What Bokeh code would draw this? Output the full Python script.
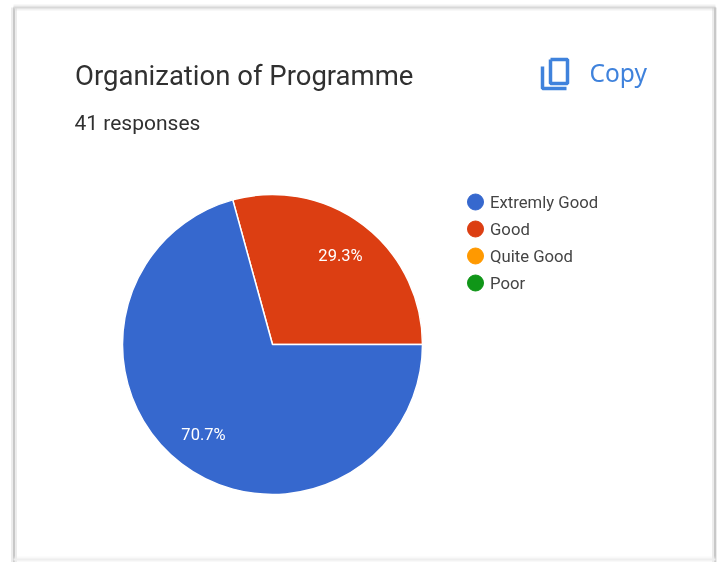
from math import pi
from bokeh.plotting import figure
from bokeh.models import Range1d
from bokeh.core.properties import value
from bokeh.embed import file_html
from bokeh.resources import INLINE

W, H = 717, 562
title = "Organization of Programme"
subtitle = "41 responses"
categories = ["Extremly Good", "Good", "Quite Good", "Poor"]
counts = [29, 12, 0, 0]
colors = ["#3668CE", "#DC3E12", "#FF9900", "#109618"]

def Y(v):
    return H - v

p = figure(width=W, height=H, output_backend="svg", toolbar_location=None,
           x_range=Range1d(0, W), y_range=Range1d(0, H), min_border=0,
           styles={"position": "fixed", "left": "0px", "top": "0px"})
p.axis.visible = False
p.grid.visible = False
p.outline_line_color = None
p.background_fill_color = "#FFFFFF"
p.border_fill_color = "#FFFFFF"

# card edges: a wide faint stroke under a narrow one, for the soft look
for xs, ys, c, w in [
    ([13.5, 13.5], [7, 562], "#C8C8C8", 3),
    ([13, 715], [7, 7], "#D8D8D8", 3),
    ([714.5, 714.5], [7, 562], "#C8C8C8", 3),
    ([13, 715], [559, 559], "#EEEEEE", 3),
]:
    p.line(xs, [Y(v) for v in ys], line_color=c, line_width=w + 3, line_alpha=0.35)
    p.line(xs, [Y(v) for v in ys], line_color=c, line_width=w - 1)

# pie: starts at 3 o'clock with "Good", anticlockwise
cx, cy, r = 272, 344, 150
total = sum(counts)
order = [1, 0]
a = 0.0
for i in order:
    b = a + 2 * pi * counts[i] / total
    p.wedge(x=[cx], y=[Y(cy)], radius=r, start_angle=a, end_angle=b,
            fill_color=colors[i], line_color="#FFFFFF", line_width=1.5)
    a = b

def txt(x, y, s, size, color, font="Roboto", style="normal", align="left"):
    p.text(x=[x], y=[Y(y)], text=[s], text_font=value(font), text_font_size=f"{size}px",
           text_color=color, text_font_style=style, text_align=align, text_baseline="middle")

txt(340, 255, f"{counts[1] / total * 100:.1f}%", 16.5, "#FFFFFF", align="center")
txt(203, 434, f"{counts[0] / total * 100:.1f}%", 16.5, "#FFFFFF", align="center")
txt(74.5, 75, title, 27.5, "#303030")
txt(74, 122, subtitle, 21, "#303030")
txt(589, 72, "Copy", 24.5, "#3F82DC", font="Noto Sans")

# copy icon
p.line([550, 567, 567, 550, 550], [Y(v) for v in [59, 59, 83, 83, 59]], line_color="#3F82DC", line_width=3.5)
p.line([542, 542, 566], [Y(v) for v in [66, 88, 88]], line_color="#3F82DC", line_width=3.5)

# legend rows
for k, (name, c) in enumerate(zip(categories, colors)):
    row_y = Y(201.5 + 27 * k)
    p.scatter(x=[475], y=[row_y], size=16, fill_color=c, line_color=c, marker="circle")
    p.text(x=[489.5], y=[row_y], text=[name], text_font=value("Roboto"), text_font_size="16.7px",
           text_color="#444444", text_align="left", text_baseline="middle")

open("out.html", "w").write(file_html(p, INLINE))
